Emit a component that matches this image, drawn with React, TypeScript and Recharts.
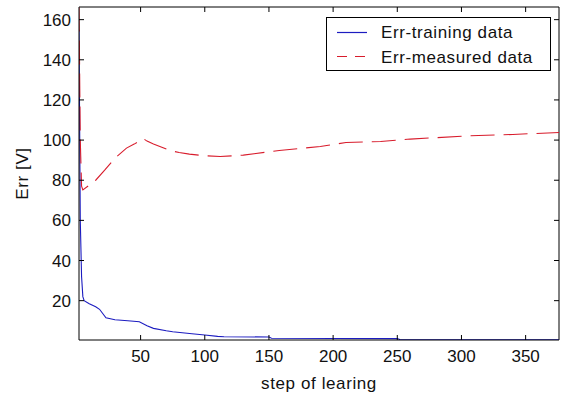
import React from "react";
import { LineChart, Line, XAxis, YAxis, ReferenceLine } from "recharts";

// Training error (blue, solid)
const trainSteps = [2, 3, 4, 5, 6, 10, 15, 18, 23, 30, 40, 49, 55, 60, 70, 75, 90, 100, 110, 115, 150, 152, 250, 252, 376];
const trainErr = [155, 60, 32, 22, 20, 18.5, 17, 15.7, 11.5, 10.5, 10, 9.5, 7.5, 6.2, 5, 4.5, 3.5, 2.9, 2.2, 2.0, 1.9, 1.3, 1.1, 0.6, 0.5];

// Measured error (red, dashed)
const measSteps = [2, 3, 4, 5, 10, 15, 22, 30, 39, 45, 50, 52, 55, 60, 65, 73, 80, 88, 100, 112, 130, 158, 190, 210, 237, 260, 306, 340, 376];
const measErr = [166, 100, 77, 75.2, 77.5, 80, 85, 91, 96, 98, 100, 100.8, 99.5, 98, 96.8, 94.8, 93.8, 93, 92.2, 91.8, 92.5, 94.8, 96.8, 98.8, 99.3, 100.5, 102.1, 102.8, 103.8];

const xTicks = [50, 100, 150, 200, 250, 300, 350];
const yTicks = [20, 40, 60, 80, 100, 120, 140, 160];
const xDomain = [2, 376];
const yDomain = [0.4, 166.3];

const seriesNames = ["Err-training data", "Err-measured data"];
const seriesColors = ["#1c1cc0", "#d81c2c"];

const trainData = trainSteps.map((s, i) => ({ step: s, err: trainErr[i] }));
const measData = measSteps.map((s, i) => ({ step: s, err: measErr[i] }));

const W = 565;
const H = 397;
const MARGIN = { top: 7, right: 6, left: 0, bottom: 0 };
const PLOT_TOP = MARGIN.top;
const PLOT_RIGHT = W - MARGIN.right;
const TICK_LEN = 5;
const X_MARGIN = 10;
const Y_MARGIN = 8;

const FONT = "'Liberation Sans', Arial, sans-serif";
const TEXT_FILL = "#111";

const BottomTick = (props: any) => {
  const { x, y, payload } = props;
  const axisY = y - X_MARGIN;
  return (
    <g>
      <line x1={x} y1={axisY} x2={x} y2={axisY - TICK_LEN} stroke="#000" />
      <line x1={x} y1={PLOT_TOP} x2={x} y2={PLOT_TOP + TICK_LEN} stroke="#000" />
      <text x={x} y={y} dy="0.72em" textAnchor="middle" fontSize={17} fontFamily={FONT} fill={TEXT_FILL}>
        {payload.value}
      </text>
    </g>
  );
};

const LeftTick = (props: any) => {
  const { x, y, payload } = props;
  const axisX = x + Y_MARGIN;
  return (
    <g>
      <line x1={axisX} y1={y} x2={axisX + TICK_LEN} y2={y} stroke="#000" />
      <line x1={PLOT_RIGHT} y1={y} x2={PLOT_RIGHT - TICK_LEN} y2={y} stroke="#000" />
      <text x={x} y={y} dy="0.36em" textAnchor="end" fontSize={17} fontFamily={FONT} fill={TEXT_FILL}>
        {payload.value}
      </text>
    </g>
  );
};

const LegendBox = () => (
  <div
    style={{
      position: "absolute",
      left: 326,
      top: 17,
      width: 225,
      height: 54,
      border: "1px solid #000",
      background: "#fff",
      boxSizing: "border-box",
    }}
  >
    <svg width={225} height={54} style={{ position: "absolute", left: -1, top: -1 }}>
      <line x1={11} y1={15.5} x2={41} y2={15.5} stroke={seriesColors[0]} strokeWidth={1.2} />
      <text x={55} y={21} fontSize={17} fontFamily={FONT} fill={TEXT_FILL} letterSpacing={0.6}>
        {seriesNames[0]}
      </text>
      <line x1={11} y1={39.5} x2={41} y2={39.5} stroke={seriesColors[1]} strokeWidth={1.2} strokeDasharray="10 8" />
      <text x={55} y={45.5} fontSize={17} fontFamily={FONT} fill={TEXT_FILL} letterSpacing={0.6}>
        {seriesNames[1]}
      </text>
    </svg>
  </div>
);

export default function App() {
  return (
    <div style={{ position: "absolute", left: 0, top: 0, width: W, height: H, background: "#fff" }}>
      <LineChart width={W} height={H} data={trainData} margin={MARGIN}>
        <XAxis
          dataKey="step"
          type="number"
          domain={xDomain}
          allowDataOverflow
          ticks={xTicks}
          height={57}
          tickSize={0}
          tickLine={false}
          tickMargin={X_MARGIN}
          stroke="#000"
          tick={<BottomTick />}
          label={{
            value: "step of learing",
            position: "insideBottom",
            offset: 8,
            style: { fontSize: 17, fill: TEXT_FILL, fontFamily: FONT, letterSpacing: 0.6 },
          }}
        />
        <YAxis
          type="number"
          domain={yDomain}
          allowDataOverflow
          ticks={yTicks}
          width={79}
          tickSize={0}
          tickLine={false}
          tickMargin={Y_MARGIN}
          stroke="#000"
          tick={<LeftTick />}
          label={{
            value: "Err [V]",
            angle: -90,
            position: "insideLeft",
            offset: 22,
            style: { fontSize: 17, fill: TEXT_FILL, fontFamily: FONT, textAnchor: "middle", letterSpacing: 0.6 },
          }}
        />
        <ReferenceLine y={yDomain[1]} stroke="#000" ifOverflow="extendDomain" />
        <ReferenceLine x={xDomain[1]} stroke="#000" ifOverflow="extendDomain" />
        <Line
          data={trainData}
          dataKey="err"
          type="linear"
          stroke={seriesColors[0]}
          strokeWidth={1.1}
          dot={false}
          activeDot={false}
          isAnimationActive={false}
          name={seriesNames[0]}
        />
        <Line
          data={measData}
          dataKey="err"
          type="linear"
          stroke={seriesColors[1]}
          strokeWidth={1.1}
          strokeDasharray="24 9"
          dot={false}
          activeDot={false}
          isAnimationActive={false}
          name={seriesNames[1]}
        />
      </LineChart>
      <LegendBox />
    </div>
  );
}
